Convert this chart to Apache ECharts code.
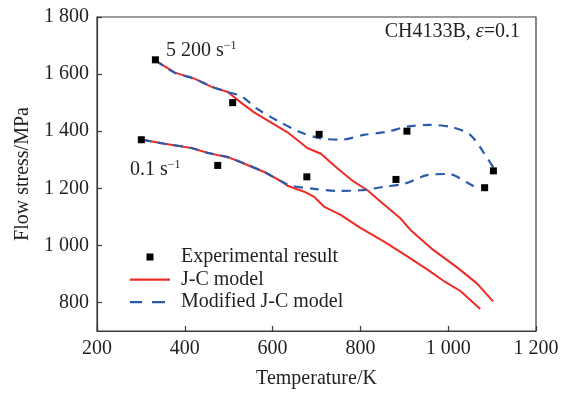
<!DOCTYPE html>
<html>
<head>
<meta charset="utf-8">
<script src="https://cdn.jsdelivr.net/npm/echarts@6/dist/echarts.min.js"></script>
<style>
html,body{margin:0;padding:0;background:#fff;}
#chart{width:563px;height:394px;}
</style>
</head>
<body>
<div id="chart"></div>
<script>
// Experimental results
const expTemp5200 = [333, 509, 706, 906, 1103];
const expStress5200 = [1650, 1500, 1389, 1400, 1261];
const expTemp01 = [301, 475, 678, 881, 1083];
const expStress01 = [1370, 1280, 1240, 1231, 1202];

// J-C model, 5200 s^-1
const jcTemp5200 = [333, 377, 422, 460, 498, 528, 558, 596, 634, 679, 710, 748, 785, 816, 853, 891, 914, 966, 1021, 1066, 1102];
const jcStress5200 = [1648, 1605, 1584, 1556, 1537, 1500, 1466, 1431, 1396, 1341, 1321, 1269, 1223, 1193, 1144, 1095, 1054, 984, 922, 866, 804];
// Modified J-C model, 5200 s^-1
const mjcTemp5200 = [333, 377, 422, 460, 498, 528, 566, 611, 664, 710, 755, 808, 861, 906, 959, 1009, 1050, 1080, 1108];
const mjcStress5200 = [1648, 1605, 1584, 1556, 1537, 1523, 1477, 1437, 1396, 1375, 1370, 1387, 1398, 1416, 1422, 1414, 1387, 1327, 1260];

// J-C model, 0.1 s^-1
const jcTemp01 = [303, 354, 415, 452, 498, 536, 581, 619, 634, 672, 694, 717, 755, 800, 853, 906, 952, 990, 1027, 1073];
const jcStress01 = [1370, 1356, 1341, 1324, 1309, 1286, 1257, 1225, 1209, 1188, 1171, 1136, 1107, 1061, 1014, 962, 916, 875, 841, 777];
// Modified J-C model, 0.1 s^-1
const mjcTemp01 = [303, 354, 415, 452, 498, 536, 581, 619, 642, 694, 748, 800, 853, 903, 952, 1001, 1043, 1070];
const mjcStress01 = [1370, 1356, 1341, 1324, 1309, 1286, 1257, 1225, 1209, 1198, 1191, 1193, 1205, 1217, 1246, 1250, 1220, 1196];

const xTicks = [200, 400, 600, 800, 1000, 1200];
const yTicks = [800, 1000, 1200, 1400, 1600, 1800];

const pairs = (xs, ys) => xs.map((x, i) => [x, ys[i]]);
const fmt = v => v >= 1000 ? Math.floor(v / 1000) + ' ' + String(v % 1000).padStart(3, '0') : String(v);

const FONT = '"Liberation Serif", "Times New Roman", serif';
const TXT = '#231f20';
const AX = '#3a3a3a';
const RED = '#ee2b25';
const BLUE = '#2b5aab';

const chart = echarts.init(document.getElementById('chart'), null, {renderer: 'canvas'});
chart.setOption({
  animation: false,
  backgroundColor: '#fff',
  textStyle: {fontFamily: FONT, color: TXT},
  grid: {left: 97, right: 27, top: 17, bottom: 59, show: true, borderColor: AX, borderWidth: 1.2, backgroundColor: 'transparent'},
  xAxis: {
    type: 'value', min: 200, max: 1200, interval: 200,
    name: 'Temperature/K', nameLocation: 'middle', nameGap: 38,
    nameTextStyle: {fontFamily: FONT, fontSize: 20, color: TXT},
    axisLine: {lineStyle: {color: AX, width: 1.2}},
    axisTick: {inside: true, length: 5, lineStyle: {color: AX, width: 1.2}},
    axisLabel: {fontFamily: FONT, fontSize: 20, color: TXT, margin: 8, formatter: fmt, customValues: xTicks},
    splitLine: {show: false}
  },
  yAxis: {
    type: 'value', min: 700, max: 1800,
    name: 'Flow stress/MPa', nameLocation: 'middle', nameGap: 62,
    nameTextStyle: {fontFamily: FONT, fontSize: 20, color: TXT},
    axisLine: {lineStyle: {color: AX, width: 1.2}},
    axisTick: {inside: true, length: 5, lineStyle: {color: AX, width: 1.2}, customValues: yTicks},
    axisLabel: {fontFamily: FONT, fontSize: 20, color: TXT, margin: 8, formatter: fmt, customValues: yTicks},
    splitLine: {show: false}
  },
  legend: {
    orient: 'vertical', left: 130, top: 247, padding: 0,
    itemWidth: 40, itemHeight: 14, itemGap: 2.5,
    textStyle: {fontFamily: FONT, fontSize: 20, color: TXT, padding: [0, 0, 0, 6]},
    data: [
      {name: 'Experimental result', icon: 'path://M0,0M40,14M16.5,3.5L23.5,3.5L23.5,10.5L16.5,10.5Z'},
      {name: 'J-C model', icon: 'path://M0,0M40,14M0,6L40,6L40,8.2L0,8.2Z'},
      {name: 'Modified J-C model', icon: 'path://M0,0M40,14M0,6L12,6L12,8.2L0,8.2ZM22,6L35,6L35,8.2L22,8.2Z'}
    ]
  },
  title: [
    {
      text: 'CH4133B, {it|ε}=0.1', right: 43, top: 22, padding: 0,
      textStyle: {fontFamily: FONT, fontSize: 20, fontWeight: 'normal', color: TXT,
        rich: {it: {fontFamily: FONT, fontSize: 20, fontStyle: 'italic', color: TXT}}}
    },
    {
      text: '5 200 s{sup|−1}', left: 166, top: 40, padding: 0,
      textStyle: {fontFamily: FONT, fontSize: 20, fontWeight: 'normal', color: TXT, lineHeight: 22,
        rich: {sup: {fontFamily: FONT, fontSize: 12, color: TXT, verticalAlign: 'top', lineHeight: 22}}}
    },
    {
      text: '0.1 s{sup|−1}', left: 130, top: 159, padding: 0,
      textStyle: {fontFamily: FONT, fontSize: 20, fontWeight: 'normal', color: TXT, lineHeight: 22,
        rich: {sup: {fontFamily: FONT, fontSize: 12, color: TXT, verticalAlign: 'top', lineHeight: 22}}}
    }
  ],
  series: [
    {name: 'J-C model', type: 'line', data: pairs(jcTemp5200, jcStress5200), showSymbol: false, symbol: 'none',
      lineStyle: {color: RED, width: 2}, itemStyle: {color: RED}, z: 2},
    {name: 'J-C model', type: 'line', data: pairs(jcTemp01, jcStress01), showSymbol: false, symbol: 'none',
      lineStyle: {color: RED, width: 2}, itemStyle: {color: RED}, z: 2},
    {name: 'Modified J-C model', type: 'line', data: pairs(mjcTemp5200, mjcStress5200), showSymbol: false, symbol: 'none', smooth: 0.3,
      lineStyle: {color: BLUE, width: 2.2, type: [9, 7]}, itemStyle: {color: BLUE}, z: 3},
    {name: 'Modified J-C model', type: 'line', data: pairs(mjcTemp01, mjcStress01), showSymbol: false, symbol: 'none', smooth: 0.3,
      lineStyle: {color: BLUE, width: 2.2, type: [9, 7]}, itemStyle: {color: BLUE}, z: 3},
    {name: 'Experimental result', type: 'scatter', symbol: 'rect', symbolSize: 7,
      data: pairs(expTemp5200, expStress5200).concat(pairs(expTemp01, expStress01)),
      itemStyle: {color: '#000', opacity: 1}, z: 5}
  ]
});
</script>
</body>
</html>
